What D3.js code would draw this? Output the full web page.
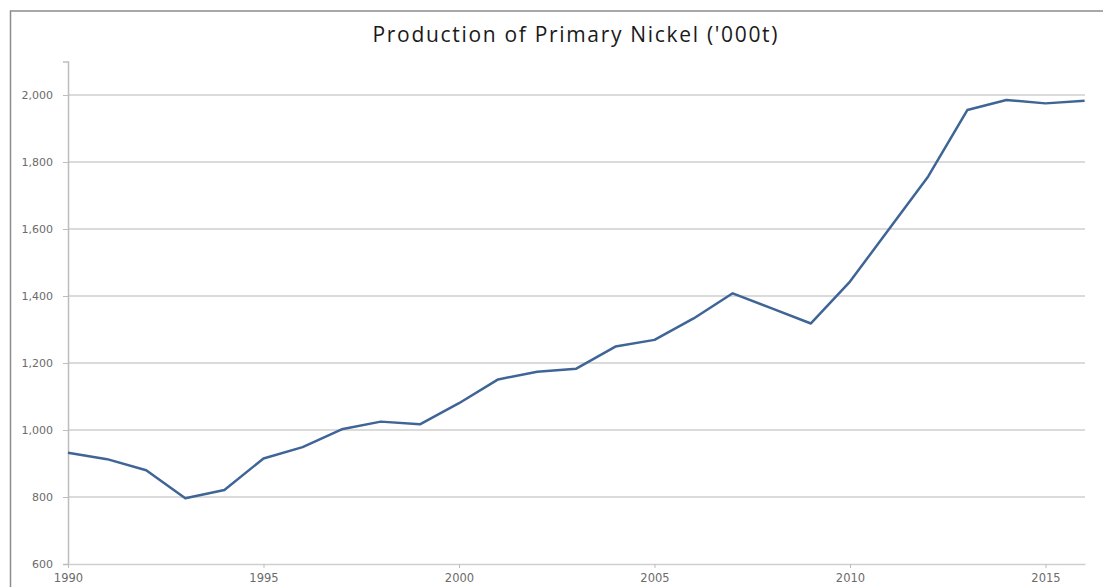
<!DOCTYPE html>
<html>
<head>
<meta charset="utf-8">
<script src="https://cdn.jsdelivr.net/npm/d3@7"></script>
<style>
  html, body { margin: 0; padding: 0; background: #fff; }
  svg { display: block; }
</style>
</head>
<body>
<svg id="chart" width="1103" height="587"></svg>
<script>
// Annual primary nickel production, thousand tonnes
const years = [1990, 1991, 1992, 1993, 1994, 1995, 1996, 1997, 1998, 1999,
               2000, 2001, 2002, 2003, 2004, 2005, 2006, 2007, 2008, 2009,
               2010, 2011, 2012, 2013, 2014, 2015, 2016];
const production = [932, 913, 880, 796, 821, 915, 949, 1002, 1025, 1017,
                    1080, 1151, 1174, 1183, 1249, 1269, 1333, 1408, 1363, 1318,
                    1443, 1600, 1757, 1955, 1985, 1975, 1983];
const yTicks = [600, 800, 1000, 1200, 1400, 1600, 1800, 2000];
const xTicks = [1990, 1995, 2000, 2005, 2010, 2015];
const titleText = "Production of Primary Nickel ('000t)";

const svg = d3.select("#chart");
const W = 1103, H = 587;
const plot = { left: 68, right: 1085, top: 61.5, bottom: 564 };

// chart frame (top and left edges visible)
svg.append("path")
  .attr("d", `M10.5,${H} L10.5,11 L${W},11`)
  .attr("fill", "none")
  .attr("stroke", "#8c8c8c")
  .attr("stroke-width", 1.5);

const x = d3.scaleLinear()
  .domain([1990, 1990 + (plot.right - plot.left) / 39.1])
  .range([plot.left, plot.right]);
const y = d3.scaleLinear().domain([600, 2100]).range([plot.bottom, plot.top]);

// horizontal gridlines
svg.append("g")
  .selectAll("line")
  .data(yTicks.filter(d => d > 600))
  .join("line")
  .attr("x1", plot.left).attr("x2", plot.right)
  .attr("y1", d => y(d)).attr("y2", d => y(d))
  .attr("stroke", "#cfcfcf")
  .attr("stroke-width", 1.5);

// y axis
const yAxis = svg.append("g")
  .attr("transform", `translate(${plot.left},0)`)
  .call(d3.axisLeft(y).tickValues(yTicks).tickFormat(d3.format(",")).tickSize(5).tickPadding(10));
yAxis.select(".domain").attr("stroke", "#bdbdbd").attr("stroke-width", 1.5);
yAxis.selectAll(".tick line").attr("stroke", "#bdbdbd");
yAxis.selectAll("text")
  .attr("font-family", "'DejaVu Sans', Verdana, sans-serif")
  .attr("font-size", 11)
  .attr("fill", "#6b6b6b");

// x axis
const xAxis = svg.append("g")
  .attr("transform", `translate(0,${plot.bottom})`)
  .call(d3.axisBottom(x).tickValues(xTicks).tickFormat(d3.format("d")).tickSize(4).tickSizeOuter(0).tickPadding(6));
xAxis.select(".domain").attr("stroke", "#cfcfcf").attr("stroke-width", 1.5);
xAxis.selectAll(".tick line").attr("stroke", "#bdbdbd");
xAxis.selectAll("text")
  .attr("font-family", "'DejaVu Sans', Verdana, sans-serif")
  .attr("font-size", 11.5)
  .attr("fill", "#6b6b6b");

// production line
const line = d3.line()
  .x((d, i) => x(years[i]))
  .y(d => y(d));
svg.append("path")
  .datum(production)
  .attr("d", line)
  .attr("fill", "none")
  .attr("stroke", "#3f6597")
  .attr("stroke-width", 2.5)
  .attr("stroke-linejoin", "round");

// title
svg.append("text")
  .attr("x", 575)
  .attr("y", 42)
  .attr("text-anchor", "middle")
  .attr("font-family", "'Open Sans', sans-serif")
  .attr("font-size", 21)
  .attr("textLength", 405)
  .attr("lengthAdjust", "spacing")
  .attr("fill", "#1a1a1a")
  .text(titleText);
</script>
</body>
</html>
